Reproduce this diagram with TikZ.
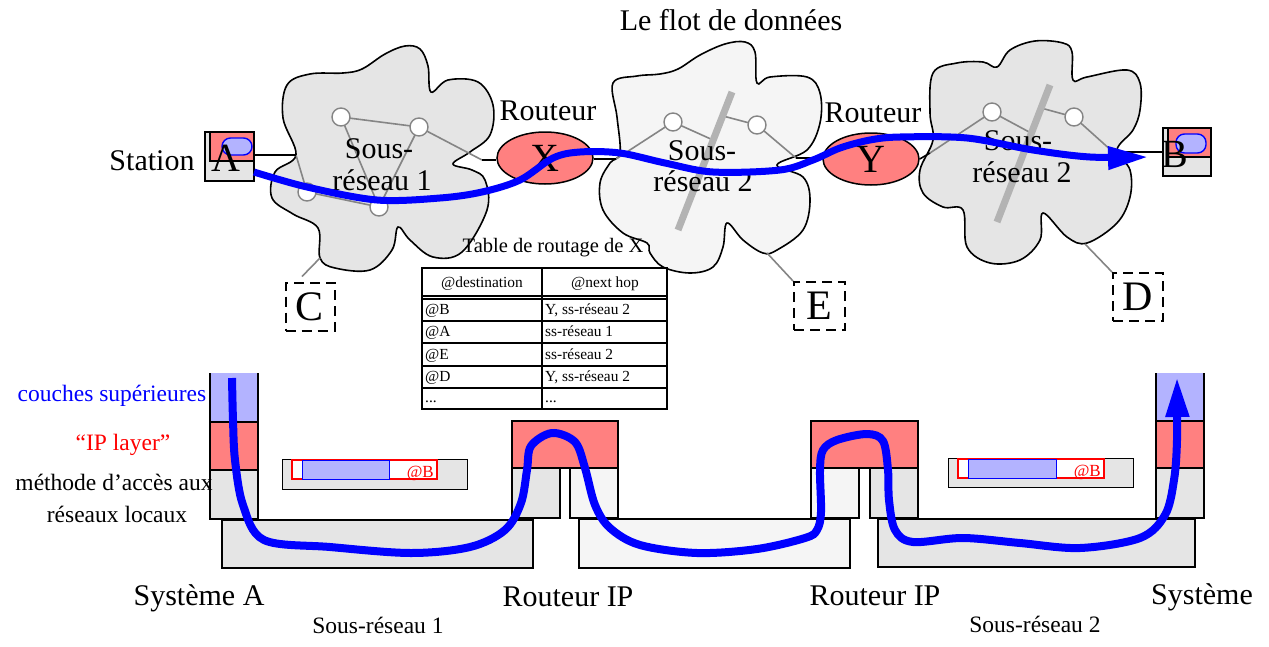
\documentclass[tikz,border=0pt]{standalone}
\usepackage{fontspec}
\setmainfont{Liberation Serif}
\usetikzlibrary{arrows.meta,calc,shapes.geometric}
\definecolor{pinkred}{HTML}{FF8080}
\definecolor{lblue}{HTML}{B3B3FF}
\definecolor{gA}{HTML}{E5E5E5}
\definecolor{gB}{HTML}{F5F5F5}
\definecolor{barg}{HTML}{B3B3B3}
\definecolor{lineg}{HTML}{858585}
\tikzset{
 lbl/.style={inner sep=0, font=\fontsize{30}{34}\selectfont},
 letter/.style={inner sep=0, font=\fontsize{40}{44}\selectfont},
 side/.style={inner sep=0, font=\fontsize{23.5}{28}\selectfont},
 tab/.style={inner sep=0, font=\fontsize{15.4}{18}\selectfont},
 ttl/.style={inner sep=0, font=\fontsize{20.5}{24}\selectfont},
 pkt/.style={inner sep=0, font=\fontsize{17}{20}\selectfont, text=red},
 cloudline/.style={draw=black, line width=1.6},
 netline/.style={draw=lineg, line width=1.6},
 conn/.style={draw=black, line width=1.6},
 host/.style={circle, draw=lineg, fill=white, line width=1.4, minimum size=18, inner sep=0},
 netbar/.style={draw=barg, line width=7},
 dbox/.style={draw, dash pattern=on 10pt off 6pt, line width=2, minimum width=49, minimum height=48, inner sep=0, font=\fontsize{42}{46}\selectfont},
 rtr/.style={ellipse, draw, fill=pinkred, line width=1.5, minimum width=96, minimum height=52, inner sep=0, font=\fontsize{40}{44}\selectfont},
 flow/.style={draw=blue, line width=7},
 layer/.style={draw=black, line width=2.4},
 tline/.style={draw=black, line width=1.2},
}
\begin{document}
\begin{tikzpicture}[x=1pt,y=-1pt]
\useasboundingbox (0,0) rectangle (1269,646);

% ---------------- clouds ----------------
\draw[cloudline, fill=gA] plot[smooth cycle, tension=0.6] coordinates {
(287,85) (310,74) (343,73) (362,69) (385,54) (405,46) (420,49) (428,66) (431,92) (448,80) (478,82) (493,105) (490,135) (470,152) (453,164) (472,170) (485,180) (487,210) (462,252) (433,257) (410,240) (398,227) (392,250) (370,270) (335,268) (320,258) (318,228) (293,214) (272,198) (275,172) (296,155) (283,118)};
\draw[cloudline, fill=gB] plot[smooth cycle, tension=0.6] coordinates {
(613,83) (637,76) (660,74) (678,69) (700,55) (725,44) (745,42) (755,52) (757,83) (770,77) (807,77) (820,93) (820,123) (807,150) (777,165) (803,177) (810,200) (803,230) (777,250) (763,253) (743,240) (727,223) (723,247) (713,267) (690,273) (663,267) (650,253) (647,243) (623,233) (603,210) (600,183) (610,163) (620,153) (617,117)};
\draw[cloudline, fill=gA] plot[smooth cycle, tension=0.6] coordinates {
(997,67) (1010,50) (1035,41) (1063,43) (1072,52) (1073,80) (1087,77) (1127,70) (1140,83) (1140,110) (1133,130) (1117,150) (1130,170) (1130,197) (1117,223) (1087,243) (1067,237) (1043,213) (1040,240) (1020,260) (990,263) (967,247) (963,210) (943,207) (923,193) (920,170) (933,140) (930,113) (933,73) (957,63) (983,62)};

% attach points
\coordinate (e1L) at (296,155);
\coordinate (e1R) at (482,160);
\coordinate (e2L) at (616,159);
\coordinate (e2R) at (796,158);
\coordinate (e3L) at (930,153);
\coordinate (e3R) at (1113,152);
\coordinate (c1C) at (320,258);
\coordinate (c2E) at (767,253);
\coordinate (c3D) at (1085,244);
\coordinate (b2a) at (713,140);
\coordinate (b2b) at (723,116);
\coordinate (b3a) at (1031,133);
\coordinate (b3b) at (1041,108);

% hosts positions
\coordinate (p11) at (341,117);
\coordinate (p12) at (419,127);
\coordinate (p13) at (307,192);
\coordinate (p14) at (379,207);
\coordinate (p21) at (673,122);
\coordinate (p22) at (757,125);
\coordinate (p31) at (992,112);
\coordinate (p32) at (1074,117);

% network lines
\draw[netline] (e1L) -- (p13) -- (p14) -- (p11) -- (p12) -- (p14);
\draw[netline] (p12) -- (e1R);
\draw[netline] (e2L) -- (p21) -- (b2a) -- (b2b) -- (p22) -- (e2R);
\draw[netline] (e3L) -- (p31) -- (b3a) -- (b3b) -- (p32) -- (e3R);
\draw[netbar] (732,92) -- (678,230);
\draw[netbar] (1050,85) -- (997,222);
\foreach \p in {p11,p12,p13,p14,p21,p22,p31,p32}
  \node[host] (h\p) at (\p) {};

% stations
\draw[line width=1.6, fill=gA] (205,132) rectangle (254,181);
\draw[line width=1.6, fill=pinkred] (210,132) rectangle (254,161);
\node[draw=blue, fill=lblue, rounded corners=8.5, line width=1.4, minimum width=30, minimum height=17, inner sep=0] (pillA) at (237,146.5) {};
\node[letter] (A) at (226,158.5) {A};
\coordinate (sA) at (254,155);

\draw[line width=1.6, fill=gA] (1163,128) rectangle (1211,176);
\draw[line width=1.6, fill=pinkred] (1168,128) rectangle (1211,157);
\node[draw=blue, fill=lblue, rounded corners=8.5, line width=1.4, minimum width=30, minimum height=19, inner sep=0] (pillB) at (1191,143.5) {};
\node[letter] (B) at (1175,154) {B};
\coordinate (sB) at (1163,152);

% routers
\node[rtr] (X) at (545,158) {X};
\node[rtr] (Y) at (871,159) {Y};

% black connectors
\draw[conn] (sA) -- (e1L);
\draw[conn] (e1R) -- (X.west |- e1R);
\draw[conn] (X.east |- e2L) -- (e2L);
\draw[conn] (e2R) -- (Y.west |- e2R);
\draw[conn] (Y.east) -- (e3L);
\draw[conn] (e3R) -- (sB);

% dashed boxes
\node[dbox] (C) at (310,306.5) {C};
\node[dbox, minimum width=51] (E) at (819.5,306) {E};
\node[dbox, minimum width=50] (D) at (1138,297) {D};
\draw[netline] (c1C) -- ($(C.north)+(-8,-5)$);
\draw[netline] (c2E) -- (E.north west);
\draw[netline] (c3D) -- (D.north west);

% cloud texts
\node[lbl, anchor=base] (s1a) at (379,158) {Sous-};
\node[lbl, anchor=base] (s1b) at (382,190) {réseau 1};
\node[lbl, anchor=base] (s2a) at (702,160) {Sous-};
\node[lbl, anchor=base] (s2b) at (703,191) {réseau 2};
\node[lbl, anchor=base] (s3a) at (1018,150) {Sous-};
\node[lbl, anchor=base] (s3b) at (1022,182) {réseau 2};

% labels top
\node[lbl, anchor=base] (title) at (731,30) {Le flot de données};
\node[lbl, anchor=base] (station) at (152,170) {Station};
\node[lbl, anchor=base] (rX) at (548,120) {Routeur};
\node[lbl, anchor=base] (rY) at (873,122) {Routeur};

% top flow
\draw[flow, -{Triangle[length=40pt,width=22pt]}] plot[smooth, tension=0.55] coordinates {
(254,172) (307,187) (377,200) (440,198) (482,192) (520,180) (553,158) (580,152) (620,153) (665,163) (713,172) (780,170) (813,160) (840,148) (870,140) (900,137) (967,138) (1033,150) (1090,157) (1148,157)};

% routing table
\node[ttl, anchor=base] (ttitle) at (553,252) {Table de routage de X};
\draw[tline] (422,268) rectangle (667,409);
\draw[tline] (542,268) -- (542,409);
\foreach \yy in {296,299,321,343,366,388}
  \draw[tline] (422,\yy) -- (667,\yy);
\node[tab, anchor=base] (h1) at (482,287) {@destination};
\node[tab, anchor=base] (h2) at (605,287) {@next hop};
\node[tab, anchor=base west] (r1a) at (425,314) {@B};
\node[tab, anchor=base west] (r1b) at (545,314) {Y, ss-réseau 2};
\node[tab, anchor=base west] (r2a) at (425,336) {@A};
\node[tab, anchor=base west] (r2b) at (545,336) {ss-réseau 1};
\node[tab, anchor=base west] (r3a) at (425,359) {@E};
\node[tab, anchor=base west] (r3b) at (545,359) {ss-réseau 2};
\node[tab, anchor=base west] (r4a) at (425,381) {@D};
\node[tab, anchor=base west] (r4b) at (545,381) {Y, ss-réseau 2};
\node[tab, anchor=base west] (r5a) at (425,402) {...};
\node[tab, anchor=base west] (r5b) at (545,402) {...};

% ---------------- bottom part ----------------
% base bars
\draw[layer, fill=gA] (222,520) rectangle (533,568);
\draw[layer, fill=gB] (579,519) rectangle (850,568);
\draw[layer, fill=gA] (878,519) rectangle (1195,567);

% system A
\fill[lblue] (210,373) rectangle (258,422);
\fill[pinkred] (210,422) rectangle (258,470);
\fill[gA] (210,470) rectangle (258,519);
\draw[layer] (210,373) -- (210,519) -- (258,519) -- (258,373);
\draw[layer] (210,422) -- (258,422) (210,470) -- (258,470);

% router 1
\draw[layer, fill=pinkred] (512,421) rectangle (618,468);
\draw[layer, fill=gA] (512,468) rectangle (560,518);
\draw[layer, fill=gB] (570,468) rectangle (618,518);
% router 2
\draw[layer, fill=pinkred] (811,421) rectangle (918,468);
\draw[layer, fill=gB] (811,468) rectangle (859,518);
\draw[layer, fill=gA] (870,468) rectangle (918,518);

% system B
\fill[lblue] (1156,373) rectangle (1204,421);
\fill[pinkred] (1156,421) rectangle (1204,468);
\fill[gA] (1156,468) rectangle (1204,518);
\draw[layer] (1156,373) -- (1156,518) -- (1204,518) -- (1204,373);
\draw[layer] (1156,421) -- (1204,421) (1156,468) -- (1204,468);

% packets
\draw[line width=1, fill=gA] (282,459) rectangle (467,489);
\draw[draw=red, line width=2, fill=white] (292,460) rectangle (437,479);
\draw[draw=blue, line width=1, fill=lblue] (302,460) rectangle (389,479);
\node[pkt, anchor=base east] (pk1) at (434,477) {@B};
\draw[line width=1, fill=gA] (948,458) rectangle (1133,487);
\draw[draw=red, line width=2, fill=white] (958,459) rectangle (1104,478);
\draw[draw=blue, line width=1, fill=lblue] (968,459) rectangle (1056,478);
\node[pkt, anchor=base east] (pk2) at (1101,476) {@B};

% side labels
\node[side, anchor=base, text=blue] (lup) at (112,401) {couches supérieures};
\node[side, anchor=base, text=red] (lip) at (123,450) {“IP layer”};
\node[side, anchor=base] (lmac1) at (114,490) {méthode d’accès aux};
\node[side, anchor=base] (lmac2) at (117,522) {réseaux locaux};

% bottom labels
\node[lbl, anchor=base] (sysA) at (199,605) {Système A};
\node[lbl, anchor=base] (rip1) at (568,606) {Routeur IP};
\node[lbl, anchor=base] (rip2) at (875,605) {Routeur IP};
\node[lbl, anchor=base] (sysB) at (1202,604) {Système};
\node[side, anchor=base] (sr1) at (378,633) {Sous-réseau 1};
\node[side, anchor=base] (sr2) at (1035,632) {Sous-réseau 2};

% bottom flow
\draw[flow, line width=8, -{Triangle[length=40pt,width=22pt]}] plot[smooth, tension=0.55] coordinates {
(232,378) (233,420) (235,460) (243,505) (264,540) (330,547) (411,553) (470,547) (505,530) (521,503) (527,470) (531,446) (552,433) (575,442) (585,468) (595,505) (610,528) (640,545) (697,553) (757,549) (805,538) (817,530) (821,512) (820,470) (823,450) (837,440) (867,434) (883,441) (888,470) (889,500) (895,530) (913,542) (963,538) (1020,543) (1080,548) (1140,538) (1165,515) (1174,480) (1177,440) (1177,377)};

\end{tikzpicture}
\end{document}
